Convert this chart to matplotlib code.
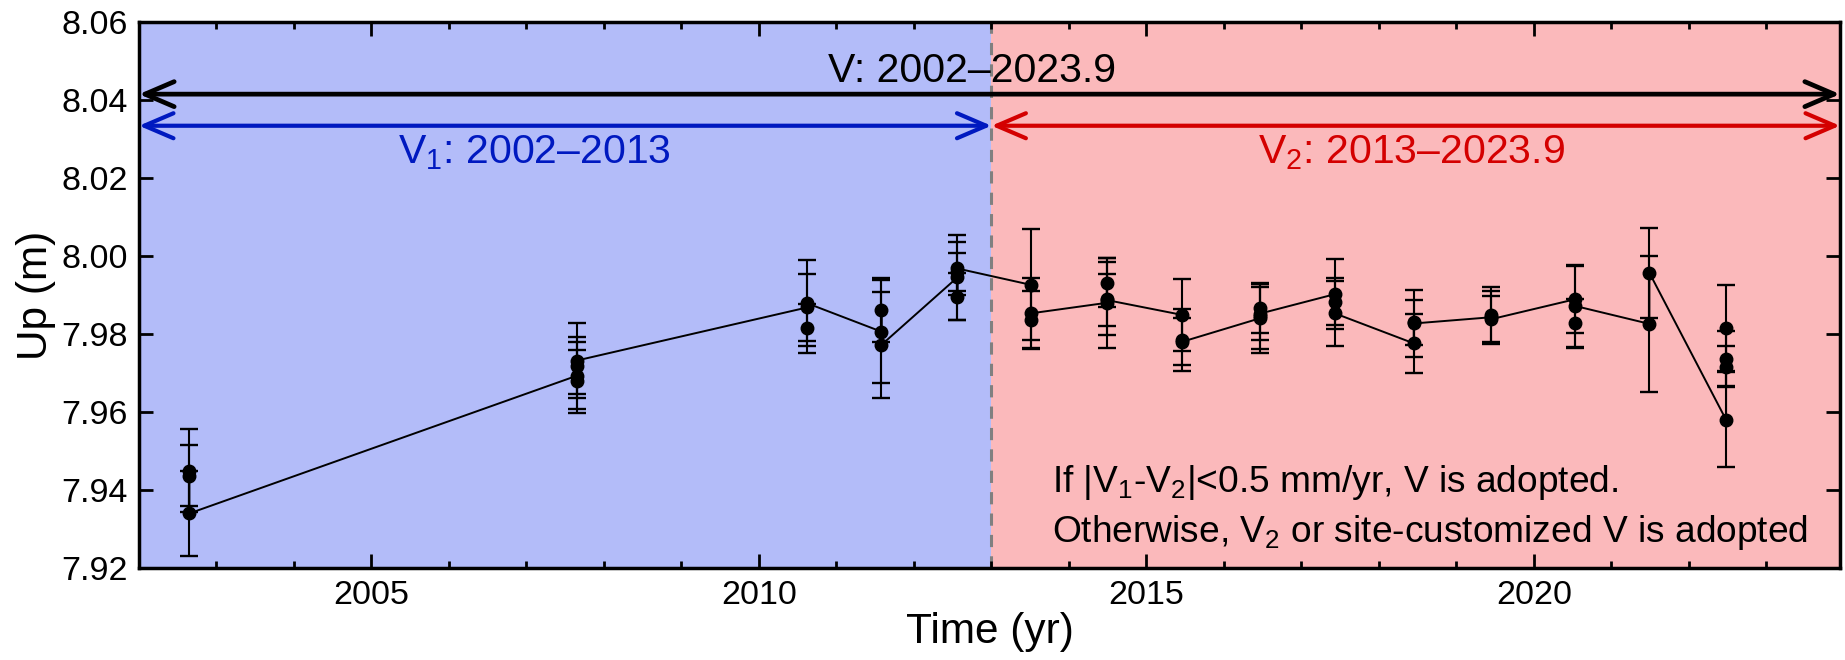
import matplotlib
matplotlib.use('Agg')
import matplotlib.pyplot as plt
from matplotlib.ticker import MultipleLocator, FormatStrFormatter

plt.rcParams['font.family'] = ['Liberation Sans', 'DejaVu Sans']
plt.rcParams['mathtext.fontset'] = 'custom'
plt.rcParams['mathtext.rm'] = 'Liberation Sans'
plt.rcParams['mathtext.it'] = 'Liberation Sans'

# ---- data ----
epoch_times = [2002.65, 2007.65, 2010.62, 2011.58, 2012.56, 2013.51, 2014.49,
               2015.46, 2016.46, 2017.43, 2018.45, 2019.45, 2020.53, 2021.49, 2022.48]
epoch_up = [
    [7.9450, 7.9437, 7.9340],
    [7.9693, 7.9679, 7.9719, 7.9732],
    [7.9868, 7.9815, 7.9879],
    [7.9806, 7.9862, 7.9772],
    [7.9945, 7.9896, 7.9958, 7.9968],
    [7.9926, 7.9836, 7.9853],
    [7.9880, 7.9932, 7.9891, 7.9887],
    [7.9849, 7.9785, 7.9780],
    [7.9840, 7.9866, 7.9845, 7.9852],
    [7.9902, 7.9883, 7.9853],
    [7.9776, 7.9830, 7.9827],
    [7.9843, 7.9849, 7.9838],
    [7.9889, 7.9827, 7.9872],
    [7.9826, 7.9957],
    [7.9580, 7.9737, 7.9716, 7.9815],
]
epoch_err = [
    [0.0106, 0.0078, 0.0110],
    [0.0086, 0.0081, 0.0074, 0.0097],
    [0.0086, 0.0063, 0.0111],
    [0.0132, 0.0082, 0.0135],
    [0.0109, 0.0060, 0.0049, 0.0069],
    [0.0142, 0.0074, 0.0090],
    [0.0115, 0.0062, 0.0094, 0.0067],
    [0.0092, 0.0079, 0.0060],
    [0.0088, 0.0064, 0.0084, 0.0068],
    [0.0090, 0.0060, 0.0084],
    [0.0075, 0.0057, 0.0087],
    [0.0068, 0.0071, 0.0059],
    [0.0086, 0.0064, 0.0105],
    [0.0175, 0.0116],
    [0.0122, 0.0070, 0.0053, 0.0111],
]
t_start, t_split, t_end = 2002.0, 2013.0, 2023.95
y_min, y_max = 7.92, 8.06
y_arrow_V = 8.0415
y_arrow_V12 = 8.0334

# flatten
t = []
up = []
err = []
for tt, us, es in zip(epoch_times, epoch_up, epoch_err):
    for u, e in zip(us, es):
        t.append(tt)
        up.append(u)
        err.append(e)

fig = plt.figure(figsize=(18.45, 6.6), dpi=100)
ax = fig.add_axes([139/1845, 1 - 568/660, (1840 - 139)/1845, (568 - 22)/660])

blue_bg = '#b3bcf9'
red_bg = '#fbb9bb'
ax.axvspan(t_start, t_split, color=blue_bg, zorder=0, lw=0)
ax.axvspan(t_split, t_end, color=red_bg, zorder=0, lw=0)
ax.axvline(t_split, color='#808080', ls=(0, (4, 3)), lw=2.2, zorder=1)

ax.plot(t, up, color='black', lw=1.4, zorder=3)
ax.errorbar(t, up, yerr=err, fmt='o', color='black', ms=9, elinewidth=1.5,
            capsize=6.2, capthick=1.7, zorder=4)

# arrows
def darrow(x0, x1, y, color, lw=3):
    ax.annotate('', xy=(x1, y), xytext=(x0, y), xycoords='data',
                arrowprops=dict(arrowstyle='<->,head_length=1.05,head_width=0.45',
                                color=color, lw=lw, shrinkA=0, shrinkB=0,
                                mutation_scale=20),
                annotation_clip=False, zorder=5)

darrow(t_start, t_end, y_arrow_V, 'black', lw=3.4)
darrow(t_start, t_split, y_arrow_V12, '#0019c0', lw=3)
darrow(t_split, t_end, y_arrow_V12, '#d40000', lw=3)

ax.text(2012.75, 8.0475, 'V: 2002\u20132023.9', fontsize=29.5, color='black',
        ha='center', va='center', zorder=6)
ax.text(2007.1, 8.0265, 'V$_\\mathregular{1}$: 2002\u20132013', fontsize=29.5,
        color='#0019c0', ha='center', va='center', zorder=6)
ax.text(2018.42, 8.0265, 'V$_\\mathregular{2}$: 2013\u20132023.9', fontsize=29.5,
        color='#d40000', ha='center', va='center', zorder=6)

ax.text(2013.78, 7.9418, 'If |V$_\\mathregular{1}$-V$_\\mathregular{2}$|<0.5 mm/yr, V is adopted.',
        fontsize=26.7, ha='left', va='center', zorder=6)
ax.text(2013.78, 7.9290, 'Otherwise, V$_\\mathregular{2}$ or site-customized V is adopted',
        fontsize=26.7, ha='left', va='center', zorder=6)

ax.set_xlim(t_start, t_end)
ax.set_ylim(y_min, y_max)
ax.xaxis.set_major_locator(MultipleLocator(5))
ax.xaxis.set_minor_locator(MultipleLocator(1))
ax.yaxis.set_major_locator(MultipleLocator(0.02))
ax.yaxis.set_minor_locator(MultipleLocator(0.02))
ax.yaxis.set_major_formatter(FormatStrFormatter('%.2f'))
ax.tick_params(which='both', direction='in', top=True, right=True, width=2)
ax.tick_params(which='major', length=10)
ax.tick_params(which='minor', length=5)
ax.tick_params(axis='x', which='major', labelsize=24.5, pad=9)
ax.tick_params(axis='y', which='major', labelsize=24.5, pad=8)
for s in ax.spines.values():
    s.set_linewidth(2.5)

ax.set_xlabel('Time (yr)', fontsize=30.5, labelpad=0)
ax.set_ylabel('Up (m)', fontsize=30.5, labelpad=4)

fig.savefig('out.png', dpi=100)
